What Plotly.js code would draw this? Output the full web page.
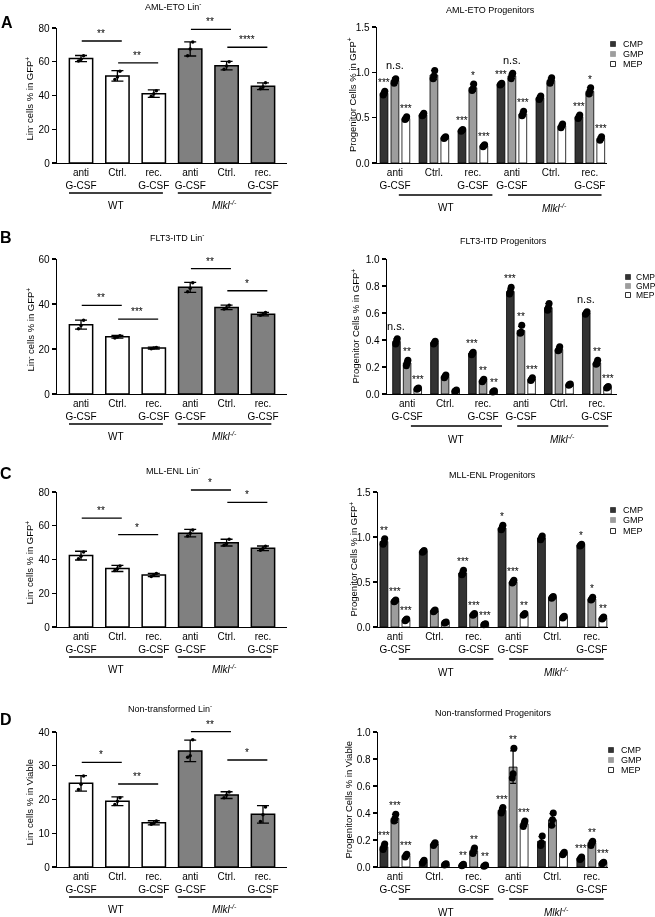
<!DOCTYPE html>
<html><head><meta charset="utf-8">
<script src="https://cdn.plot.ly/plotly-3.0.1.min.js"></script>
<style>html,body{margin:0;padding:0;background:#fff}#chart{width:655px;height:917px;filter:grayscale(1)}</style>
</head><body><div id="chart"></div>
<script>
// ---------------- DATA ----------------
const tickLabels = ['anti<br>G-CSF','Ctrl.','rec.<br>G-CSF','anti<br>G-CSF','Ctrl.','rec.<br>G-CSF'];
const genotypes = ['WT','<i>Mlkl<sup>-/-</sup></i>'];
const genotypeOfBar = [0,0,0,1,1,1];
const seriesNames = ['CMP','GMP','MEP'];

// Panel A – AML-ETO
const amlLinMean = [61.9, 51.6, 41.1, 67.6, 57.7, 45.5];
const amlLinSD   = [1.8, 3.1, 2.2, 4.2, 2.5, 2.0];
const amlLinReps = [[60.5,61.5,63.5],[49.5,51.0,54.3],[39.5,41.0,42.8],[63.5,67.5,71.7],[55.5,57.5,60.0],[44.0,45.0,47.5]];
const amlLinSig  = [[0,1,72.3,'**'],[1,2,59.3,'**'],[3,4,79.2,'**'],[4,5,68.6,'****']];

const amlCMP = [0.77,0.53,0.36,0.87,0.72,0.51];
const amlCMPsd = [0.02,0.02,0.01,0.01,0.02,0.02];
const amlCMPreps = [[0.75,0.77,0.79],[0.52,0.53,0.55],[0.35,0.36,0.37],[0.86,0.87,0.88],[0.70,0.72,0.74],[0.49,0.51,0.53]];
const amlGMP = [0.91,0.97,0.83,0.96,0.91,0.79];
const amlGMPsd = [0.03,0.05,0.04,0.03,0.03,0.04];
const amlGMPreps = [[0.88,0.91,0.93],[0.93,0.96,1.02],[0.80,0.82,0.87],[0.93,0.97,0.99],[0.88,0.91,0.94],[0.76,0.79,0.83]];
const amlMEP = [0.49,0.28,0.19,0.54,0.41,0.27];
const amlMEPsd = [0.02,0.01,0.01,0.03,0.02,0.02];
const amlMEPreps = [[0.48,0.49,0.51],[0.27,0.28,0.29],[0.18,0.19,0.20],[0.52,0.54,0.57],[0.39,0.41,0.43],[0.25,0.27,0.29]];
const amlStars = [['***','','***','***','','***'],['n.s.','','*','n.s.','','*'],['***','','***','***','','***']];

// Panel B – FLT3-ITD
const fltLinMean = [30.8, 25.4, 20.4, 47.4, 38.5, 35.5];
const fltLinSD   = [2.0, 0.6, 0.4, 2.2, 1.0, 0.8];
const fltLinReps = [[29.0,30.5,32.8],[24.9,25.3,25.9],[20.1,20.4,20.7],[45.5,47.0,49.5],[37.8,38.3,39.5],[35.0,35.4,36.2]];
const fltLinSig  = [[0,1,39.4,'**'],[1,2,33.3,'***'],[3,4,55.7,'**'],[4,5,45.9,'*']];

const fltCMP = [0.39,0.38,0.30,0.76,0.64,0.60];
const fltCMPsd = [0.02,0.01,0.01,0.02,0.03,0.01];
const fltCMPreps = [[0.37,0.39,0.41],[0.37,0.38,0.39],[0.29,0.30,0.31],[0.74,0.76,0.79],[0.62,0.64,0.67],[0.59,0.60,0.61]];
const fltGMP = [0.23,0.13,0.10,0.47,0.33,0.23];
const fltGMPsd = [0.02,0.01,0.01,0.03,0.02,0.02];
const fltGMPreps = [[0.21,0.23,0.25],[0.12,0.13,0.14],[0.09,0.10,0.11],[0.45,0.46,0.51],[0.32,0.33,0.35],[0.22,0.23,0.25]];
const fltMEP = [0.04,0.025,0.02,0.11,0.07,0.05];
const fltMEPsd = [0.005,0.005,0.005,0.01,0.005,0.005];
const fltMEPreps = [[0.035,0.04,0.045],[0.02,0.025,0.03],[0.015,0.02,0.025],[0.10,0.11,0.12],[0.065,0.07,0.075],[0.045,0.05,0.055]];
const fltStars = [['n.s.','','***','***','','n.s.'],['**','','**','**','','**'],['***','','**','***','','***']];

// Panel C – MLL-ENL
const mllLinMean = [42.3, 34.7, 30.8, 55.6, 50.0, 46.6];
const mllLinSD   = [2.6, 1.8, 1.0, 2.2, 2.0, 1.4];
const mllLinReps = [[40.5,42.0,44.5],[33.5,34.5,36.2],[30.0,30.8,31.7],[54.0,55.5,57.5],[48.5,49.5,52.0],[45.5,46.5,47.8]];
const mllLinSig  = [[0,1,64.5,'**'],[1,2,54.8,'*'],[3,4,81.2,'*'],[4,5,73.8,'*']];

const mllCMP = [0.95,0.84,0.60,1.10,0.99,0.91];
const mllCMPsd = [0.03,0.01,0.03,0.03,0.02,0.01];
const mllCMPreps = [[0.92,0.94,0.98],[0.83,0.84,0.85],[0.58,0.60,0.63],[1.08,1.10,1.13],[0.97,0.99,1.01],[0.90,0.91,0.92]];
const mllGMP = [0.29,0.18,0.14,0.50,0.33,0.31];
const mllGMPsd = [0.01,0.01,0.01,0.02,0.01,0.02];
const mllGMPreps = [[0.28,0.29,0.30],[0.17,0.18,0.19],[0.13,0.14,0.15],[0.49,0.50,0.52],[0.32,0.33,0.34],[0.30,0.31,0.33]];
const mllMEP = [0.08,0.05,0.03,0.14,0.11,0.10];
const mllMEPsd = [0.01,0.005,0.005,0.01,0.01,0.01];
const mllMEPreps = [[0.07,0.08,0.09],[0.045,0.05,0.055],[0.025,0.03,0.035],[0.13,0.14,0.15],[0.10,0.11,0.12],[0.09,0.10,0.11]];
const mllStars = [['**','','***','*','','*'],['***','','***','***','','*'],['***','','***','**','','**']];

// Panel D – Non-transformed
const ntLinMean = [24.8, 19.5, 13.1, 34.4, 21.3, 15.6];
const ntLinSD   = [2.3, 1.3, 0.6, 3.2, 1.0, 2.6];
const ntLinReps = [[23.0,24.5,27.0],[18.5,19.5,20.5],[12.7,13.0,13.6],[32.5,33.0,37.7],[20.5,21.3,22.2],[13.5,15.5,17.8]];
const ntLinSig  = [[0,1,31.0,'*'],[1,2,24.6,'**'],[3,4,40.1,'**'],[4,5,31.7,'*']];

const ntCMP = [0.15,0.04,0.015,0.42,0.19,0.065];
const ntCMPsd = [0.02,0.01,0.005,0.02,0.035,0.01];
const ntCMPreps = [[0.13,0.15,0.17],[0.03,0.04,0.05],[0.01,0.015,0.02],[0.40,0.42,0.44],[0.16,0.18,0.23],[0.055,0.065,0.075]];
const ntGMP = [0.36,0.17,0.12,0.74,0.35,0.18];
const ntGMPsd = [0.03,0.01,0.02,0.12,0.045,0.015];
const ntGMPreps = [[0.34,0.36,0.39],[0.16,0.17,0.18],[0.10,0.12,0.14],[0.66,0.69,0.88],[0.31,0.35,0.40],[0.16,0.18,0.19]];
const ntMEP = [0.085,0.02,0.01,0.32,0.10,0.03];
const ntMEPsd = [0.01,0.005,0.005,0.02,0.01,0.005];
const ntMEPreps = [[0.075,0.085,0.095],[0.015,0.02,0.025],[0.005,0.01,0.015],[0.30,0.32,0.34],[0.09,0.10,0.11],[0.025,0.03,0.035]];
const ntStars = [['***','','**','***','','***'],['***','','**','**','','**'],['***','','**','***','','***']];

// ---------------- DRAWING ----------------
const FONT = '"Liberation Sans", Arial, Helvetica, sans-serif';
const W = 655, H = 917;
const px = x => x / W, py = y => 1 - y / H;
const traces = [], shapes = [], annotations = [];
const layout = {
  width: W, height: H, margin: {l:0, r:0, t:0, b:0, pad:0},
  paper_bgcolor: '#fff', plot_bgcolor: 'rgba(0,0,0,0)', showlegend: false, hovermode: false,
  barmode: 'overlay', font: {family: FONT, size: 10, color: '#000'}
};
const catIdx = tickLabels.map((_, i) => i);
const seriesColors = ['#333333', '#9d9d9d', '#ffffff'];
const seriesOffset = [-0.28, 0, 0.28];
const jitter = [-0.07, 0.0, 0.07];

function ids(k) { const s = k === 1 ? '' : String(k); return {xa:'xaxis'+s, ya:'yaxis'+s, x:'x'+s, y:'y'+s}; }

function setupAxes(k, box, xr, yr, dtick, fmt) {
  const id = ids(k);
  layout[id.xa] = {domain:[px(box[0]), px(box[2])], range:xr, anchor:id.y, showgrid:false, zeroline:false,
    showline:true, linecolor:'#000', linewidth:1.3, ticks:'', tickmode:'array', tickvals:catIdx, ticktext:tickLabels,
    tickfont:{family:FONT, size:10, color:'#000'}, fixedrange:true};
  layout[id.ya] = {domain:[py(box[3]), py(box[1])], range:yr, anchor:id.x, showgrid:false, zeroline:false,
    showline:true, linecolor:'#000', linewidth:1.3, ticks:'outside', ticklen:4, tickwidth:1.3, tickcolor:'#000',
    tick0:0, dtick:dtick, tickformat:fmt, tickfont:{family:FONT, size:10, color:'#000'}, fixedrange:true};
  return id;
}

function textAt(x, y, text, size, opts) {
  annotations.push(Object.assign({xref:'paper', yref:'paper', x:px(x), y:py(y), text:text, showarrow:false,
    xanchor:'center', yanchor:'middle', font:{family:FONT, size:size, color:'#000'}}, opts || {}));
}

function groupLines(id, axisBottom, spans, lineOff, labelOff) {
  spans.forEach((sp, g) => {
    shapes.push({type:'line', xref:id.x, yref:'paper', x0:sp[0], x1:sp[1], y0:py(axisBottom+lineOff), y1:py(axisBottom+lineOff), line:{color:'#000', width:1.3}});
    annotations.push({xref:id.x, yref:'paper', x:(sp[0]+sp[1])/2, y:py(axisBottom+labelOff), text:genotypes[g], showarrow:false,
      xanchor:'center', yanchor:'middle', font:{family:FONT, size:10, color:'#000'}});
  });
}

function linPanel(k, box, yr, dtick, mean, sd, reps, sigs, title, titleXY, ytitle, ytX) {
  const id = setupAxes(k, box, [-0.66, 5.66], yr, dtick, 'd');
  traces.push({type:'bar', x:catIdx, y:mean, width:0.64, xaxis:id.x, yaxis:id.y,
    marker:{color:genotypeOfBar.map(g => g === 0 ? '#ffffff' : '#808080'), line:{color:'#000', width:1.5}},
    error_y:{type:'data', array:sd, visible:true, color:'#000', thickness:1.3, width:6}});
  const dx = [], dy = [];
  reps.forEach((r, i) => r.forEach((v, j) => { dx.push(i + jitter[j]); dy.push(v); }));
  traces.push({type:'scatter', mode:'markers', x:dx, y:dy, xaxis:id.x, yaxis:id.y, marker:{color:'#000', size:3.5}, cliponaxis:false});
  sigs.forEach(s => {
    // y expressed as a fraction of the y-axis domain, so brackets above the range are still drawn
    const f = (s[2] - yr[0]) / (yr[1] - yr[0]);
    shapes.push({type:'line', xref:id.x, yref:id.y + ' domain', x0:s[0]+0.02, x1:s[1]+0.12, y0:f, y1:f, line:{color:'#000', width:1.3}});
    annotations.push({xref:id.x, yref:id.y + ' domain', x:(s[0]+s[1])/2+0.05, y:f, text:s[3], showarrow:false, xanchor:'center', yanchor:'bottom',
      font:{family:FONT, size:10, color:'#000'}});
  });
  groupLines(id, box[3], [[-0.33, 2.25], [2.66, 5.23]], 30, 42);
  textAt(titleXY[0], titleXY[1], title, 9);
  textAt(ytX, (box[1]+box[3])/2 + 3, ytitle, 9.5, {textangle:-90});
}

function progPanel(k, box, xr, yr, dtick, means, sds, reps, stars, title, titleXY, ytitle, ytX, leg) {
  const id = setupAxes(k, box, xr, yr, dtick, '.1f');
  means.forEach((m, s) => {
    const xs = catIdx.map(i => i + seriesOffset[s]);
    traces.push({type:'bar', x:xs, y:m, width:0.2, xaxis:id.x, yaxis:id.y, name:seriesNames[s],
      marker:{color:seriesColors[s], line:{color:'#000', width:0.8}},
      error_y:{type:'data', array:sds[s], visible:true, color:'#000', thickness:1.2, width:3}});
    const dx = [], dy = [];
    reps[s].forEach((r, i) => r.forEach((v, j) => { dx.push(i + seriesOffset[s] + jitter[j]*0.3); dy.push(v); }));
    traces.push({type:'scatter', mode:'markers', x:dx, y:dy, xaxis:id.x, yaxis:id.y, marker:{color:'#000', size:7}, cliponaxis:false});
    stars[s].forEach((t, i) => {
      if (!t) return;
      const top = Math.max(Math.max.apply(null, reps[s][i]), m[i] + sds[s][i]);
      const ns = t === 'n.s.';
      annotations.push({xref:id.x, yref:id.y, x:i + seriesOffset[s], y:top, text:t, showarrow:false, xanchor:'center', yanchor:'bottom',
        yshift: ns ? 5 : 1, font:{family:FONT, size: ns ? 11 : 10, color:'#000'}});
    });
  });
  groupLines(id, box[3], [[0.1, 2.5], [2.9, 5.3]], 32, 45);
  textAt(titleXY[0], titleXY[1], title, 9);
  textAt(ytX, (box[1]+box[3])/2, ytitle, 9.5, {textangle:-90});
  seriesNames.forEach((nm, s) => {
    const ry = leg.rows[s];
    shapes.push({type:'rect', xref:'paper', yref:'paper', x0:px(leg.sx-2.5), x1:px(leg.sx+2.5), y0:py(ry+2.5), y1:py(ry-2.5),
      fillcolor:seriesColors[s], line:{color: s === 2 ? '#000' : seriesColors[s], width:0.8}});
    textAt(leg.tx, ry, nm, leg.fs, {xanchor:'left'});
  });
}

// Panel letters
textAt(7, 22, '<b>A</b>', 16);
textAt(6, 237, '<b>B</b>', 16);
textAt(6, 473, '<b>C</b>', 16);
textAt(6, 719, '<b>D</b>', 16);

const linTitleGFP = 'Lin<sup>-</sup> cells % in GFP<sup>+</sup>';
const progTitleGFP = 'Progenitor Cells % in GFP<sup>+</sup>';

linPanel(1, [57,28,287,163], [0,80], 20, amlLinMean, amlLinSD, amlLinReps, amlLinSig, 'AML-ETO Lin<sup>-</sup>', [173,6], linTitleGFP, 30);
progPanel(2, [377,27,607,163], [-0.46,5.44], [0,1.5], 0.5, [amlCMP,amlGMP,amlMEP], [amlCMPsd,amlGMPsd,amlMEPsd], [amlCMPreps,amlGMPreps,amlMEPreps], amlStars,
  'AML-ETO Progenitors', [490,10], progTitleGFP, 352, {sx:613, tx:621, rows:[44,54,64], fs:9});

linPanel(3, [57,259,287,394], [0,60], 20, fltLinMean, fltLinSD, fltLinReps, fltLinSig, 'FLT3-ITD Lin<sup>-</sup>', [177,237], linTitleGFP, 30);
progPanel(4, [387,259,617,394], [-0.53,5.53], [0,1.0], 0.2, [fltCMP,fltGMP,fltMEP], [fltCMPsd,fltGMPsd,fltMEPsd], [fltCMPreps,fltGMPreps,fltMEPreps], fltStars,
  'FLT3-ITD Progenitors', [503,241], progTitleGFP, 355, {sx:628, tx:634, rows:[277,286,295], fs:8.5});

linPanel(5, [57,492,287,627], [0,80], 20, mllLinMean, mllLinSD, mllLinReps, mllLinSig, 'MLL-ENL Lin<sup>-</sup>', [173,470], linTitleGFP, 29);
progPanel(6, [378,492,608,627], [-0.43,5.41], [0,1.5], 0.5, [mllCMP,mllGMP,mllMEP], [mllCMPsd,mllGMPsd,mllMEPsd], [mllCMPreps,mllGMPreps,mllMEPreps], mllStars,
  'MLL-ENL Progenitors', [492,475], progTitleGFP, 353, {sx:613, tx:621, rows:[510,520,531], fs:9});

linPanel(7, [57,732,287,867], [0,40], 10, ntLinMean, ntLinSD, ntLinReps, ntLinSig, 'Non-transformed Lin<sup>-</sup>', [170,708], 'Lin<sup>-</sup> cells % in Viable', 29);
progPanel(8, [378,732,608,867], [-0.43,5.41], [0,1.0], 0.2, [ntCMP,ntGMP,ntMEP], [ntCMPsd,ntGMPsd,ntMEPsd], [ntCMPreps,ntGMPreps,ntMEPreps], ntStars,
  'Non-transformed Progenitors', [493,713], 'Progenitor Cells % in Viable', 348, {sx:611, tx:619, rows:[750,760,770], fs:9});

layout.shapes = shapes;
layout.annotations = annotations;
Plotly.newPlot('chart', traces, layout, {staticPlot:true, displayModeBar:false});
</script></body></html>
